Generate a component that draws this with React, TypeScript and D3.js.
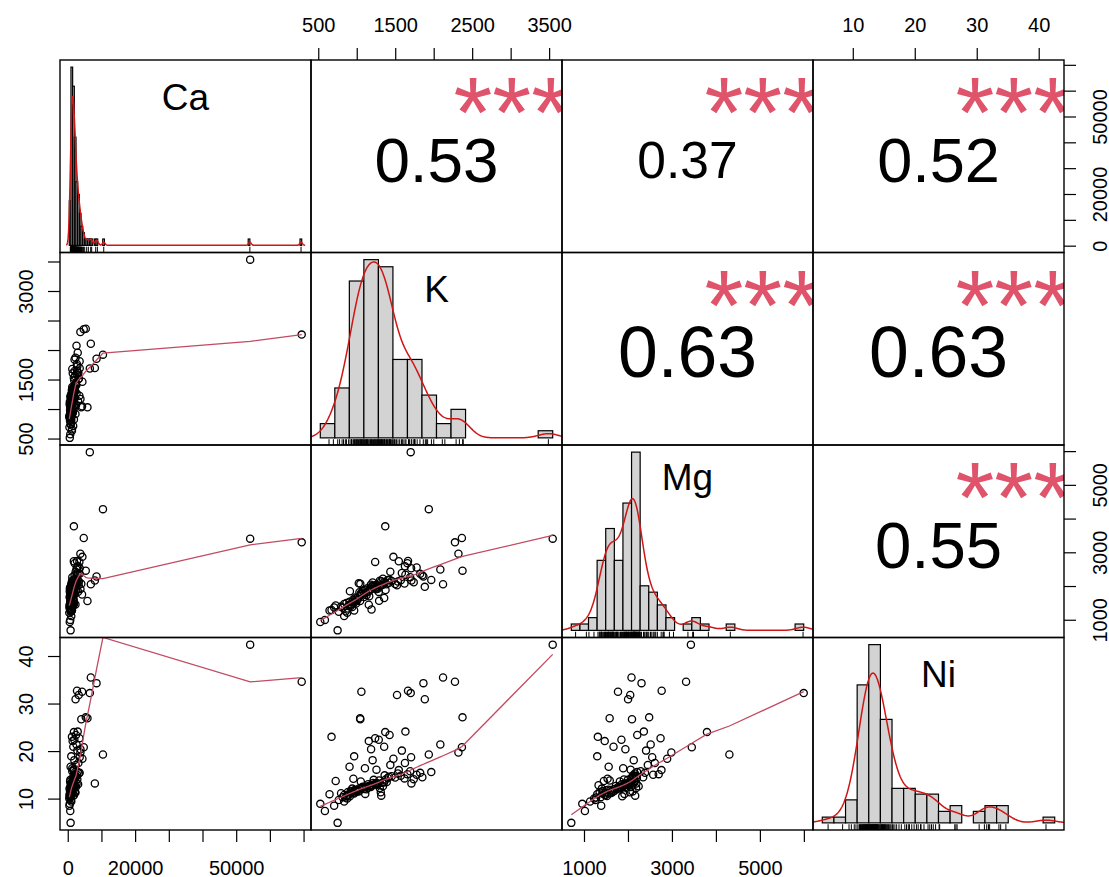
import React from 'react';
import * as d3 from 'd3';

// ---------------- data (one entry per sample, 115 samples) ----------------
const varNames = ['Ca', 'K', 'Mg', 'Ni'];

const caValues = [
  700, 54000, 69300, 6400, 10300, 1670, 7900, 8400, 6700, 4600, 5200, 3600, 2450, 2170, 1650, 4200, 450, 600, 900, 4100,
  2600, 3100, 5700, 3880, 2800, 3300, 1100, 1800, 2300, 1300, 3620, 1500, 2700, 900, 3400, 1800, 1200, 2200, 700, 3000,
  1500, 350, 800,
  520, 1090, 310, 1460, 670, 870, 440, 1690, 770, 590, 1240, 360, 1020, 710, 2140, 610, 830, 1370, 540, 1160, 920, 650,
  1570, 730,
  790, 410, 1310, 950, 2310, 560, 1110, 690, 1820, 850, 480, 1490, 1040, 2930, 630, 1210, 810, 1970, 980, 1400, 750, 2470,
  890, 1290,
  1070, 1610, 1190, 2000, 1260, 1780, 1140, 1430, 2390, 1530, 1340, 1920, 1640, 2690, 1730, 3150, 1870, 2230, 1900, 2060,
  2810, 2580, 1200, 3380,
];

const kValues = [
  745, 3540, 2270, 1695, 1930, 1364, 1704, 1860, 2115, 2360, 2368, 2315, 2080, 1878, 1540, 1470, 520, 580, 830, 1054,
  1660, 1517, 1037, 1040, 1626, 1233, 666, 1280, 1420, 1150, 1180, 1350, 1580, 960, 1700, 1200, 1100, 1430, 900, 1620,
  1250, 700, 760,
  810, 640, 870, 720, 850, 790, 905, 830, 880, 860, 935, 890, 915, 960, 925, 945, 985, 950, 990, 970, 1020, 975, 998, 1010,
  1058, 1090, 1028, 1121, 1071, 1046, 1156, 1104, 1083, 1186, 1133, 1112, 1177, 1142, 1214, 1163, 1243, 1194, 1266, 1208,
  1236, 1277, 1227, 1258,
  1327, 1284, 1383, 1306, 1348, 1493, 1293, 1368, 1412, 1312, 1614, 1334, 1356, 1734, 1396, 1528, 1846, 1448, 1652, 1566,
  1962, 1772, 1688, 1818,
];

const mgValues = [
  700, 3420, 3310, 5985, 4295, 3785, 2180, 2297, 2069, 3440, 2471, 2975, 2505, 1991, 2750, 2880, 950, 1010, 1127, 1762,
  2755, 2040, 1572, 2080, 2350, 2730, 1304, 1840, 2200, 1460, 1930, 1660, 2400, 1290, 2540, 2120, 1880, 2440, 1550, 2600,
  2050, 1380, 1250,
  1370, 1290, 1220, 1440, 1265, 1405, 1858, 1480, 1345, 1510, 1395, 1455, 1420, 1555, 1470, 1610, 1495, 1525, 1650, 1540,
  2094, 1675, 1590, 1630,
  1788, 1688, 1829, 1743, 1872, 1804, 1712, 1908, 1761, 1320, 1948, 1817, 2054, 1846, 1986, 1883, 1921, 2006, 1934, 2027,
  1961, 1994, 2013, 1973,
  2047, 1575, 2066, 2033, 2134, 2073, 2174, 1897, 2113, 2153, 2088, 2232, 2106, 2127, 2191, 2146, 2334, 2167, 2688, 2183,
  2197, 2562, 2278, 2376,
];

const niValues = [
  5.0, 42.5, 34.7, 32.3, 19.4, 24.1, 13.3, 34.4, 35.6, 20.9, 27.2, 19.8, 21.5, 31.0, 16.1, 18.5, 9.0, 7.5, 9.5, 32.6,
  32.8, 31.9, 27.0, 26.8, 24.2, 22.8, 23.1, 22.5, 23.5, 22.2, 20.5, 21.0, 20.2, 19.0, 18.8, 18.2, 16.5, 17.2, 16.8, 17.6,
  16.2, 8.6, 9.8,
  10.41, 11.04, 10.12, 13.8, 10.35, 11.23, 10.58, 10.85, 11.5, 10.66, 12.21, 10.92, 11.68, 11.18, 11.37, 11.31, 11.84,
  14.28, 11.56, 11.96, 11.62, 11.73, 11.9, 11.79,
  12.44, 12.15, 12.27, 12.08, 12.61, 13.7, 12.78, 11.1, 12.5, 12.94, 12.38, 12.66, 12.55, 13.11, 14.05, 12.83, 13.28,
  12.88, 13.0, 13.4, 13.05, 13.22, 13.17, 13.34,
  13.46, 13.91, 13.61, 11.44, 13.52, 14.53, 12.33, 14.12, 14.71, 10.73, 14.36, 12.72, 15.0, 14.2, 14.45, 15.38, 14.6,
  14.8, 15.25, 14.9, 15.68, 15.12, 15.85, 15.52,
];

// correlation labels (upper panels), as printed
const corrPairs = [[0, 1], [0, 2], [0, 3], [1, 2], [1, 3], [2, 3]];
const corrText = ['0.53', '0.37', '0.52', '0.63', '0.63', '0.55'];
const corrStars = ['***', '***', '***', '***', '***', '***'];

// axis ticks and labels
const caTicks = [0, 10000, 20000, 30000, 40000, 50000, 60000, 70000];
const caLabels = [0, 20000, 50000];
const kTicks = [500, 1000, 1500, 2000, 2500, 3000, 3500];
const kLabelsTop = [500, 1500, 2500, 3500];
const kLabelsLeft = [500, 1500, 3000];
const mgTicks = [1000, 2000, 3000, 4000, 5000, 6000];
const mgLabels = [1000, 3000, 5000];
const niTicks = [10, 20, 30, 40];
const niLabels = [10, 20, 30, 40];

// histogram bin widths (as in the picture)
const histBinWidth = [500, 200, 200, 2];

// ---------------- helpers ----------------
const FONT = '"Liberation Sans", Arial, Helvetica, sans-serif';
const STAR_COL = '#DF536B';
const SMOOTH_COL = '#C24A62';
const DENS_COL = '#D01515';

function lowess(xIn: number[], yIn: number[], f = 2 / 3, nsteps = 3): [number, number][] {
  const n = xIn.length;
  const order = d3.range(n).sort((a, b) => xIn[a] - xIn[b]);
  const x = [0, ...order.map((i) => xIn[i])];
  const y = [0, ...order.map((i) => yIn[i])];
  const ys = new Array(n + 1).fill(0);
  const rw = new Array(n + 1).fill(1);
  const w = new Array(n + 1).fill(0);
  const delta = 0.01 * (x[n] - x[1]);
  const ns = Math.max(2, Math.min(n, Math.floor(f * n + 1e-7)));

  const lowest = (xs: number, nleft: number, nright: number, userw: boolean): [number, boolean] => {
    const range = x[n] - x[1];
    const h = Math.max(xs - x[nleft], x[nright] - xs);
    const h9 = 0.999 * h;
    const h1 = 0.001 * h;
    let a = 0;
    let j = nleft;
    while (j <= n) {
      w[j] = 0;
      const r = Math.abs(x[j] - xs);
      if (r <= h9) {
        if (r <= h1) w[j] = 1;
        else {
          const q = r / h;
          const c = 1 - q * q * q;
          w[j] = c * c * c;
        }
        if (userw) w[j] *= rw[j];
        a += w[j];
      } else if (x[j] > xs) break;
      j++;
    }
    const nrt = j - 1;
    if (a <= 0) return [0, false];
    for (j = nleft; j <= nrt; j++) w[j] /= a;
    if (h > 0) {
      a = 0;
      for (j = nleft; j <= nrt; j++) a += w[j] * x[j];
      let b = xs - a;
      let c = 0;
      for (j = nleft; j <= nrt; j++) c += w[j] * (x[j] - a) * (x[j] - a);
      if (Math.sqrt(c) > 0.001 * range) {
        b /= c;
        for (j = nleft; j <= nrt; j++) w[j] *= b * (x[j] - a) + 1;
      }
    }
    let s = 0;
    for (j = nleft; j <= nrt; j++) s += w[j] * y[j];
    return [s, true];
  };

  let iter = 1;
  while (iter <= nsteps + 1) {
    let nleft = 1;
    let nright = ns;
    let last = 0;
    let i = 1;
    for (;;) {
      if (nright < n) {
        const d1 = x[i] - x[nleft];
        const d2 = x[nright + 1] - x[i];
        if (d1 > d2) {
          nleft++;
          nright++;
          continue;
        }
      }
      const [v, ok] = lowest(x[i], nleft, nright, iter > 1);
      ys[i] = ok ? v : y[i];
      if (last < i - 1) {
        const denom = x[i] - x[last];
        for (let j = last + 1; j < i; j++) {
          const alpha = (x[j] - x[last]) / denom;
          ys[j] = alpha * ys[i] + (1 - alpha) * ys[last];
        }
      }
      last = i;
      const cut = x[last] + delta;
      for (i = last + 1; i <= n; i++) {
        if (x[i] > cut) break;
        if (x[i] === x[last]) {
          ys[i] = ys[last];
          last = i;
        }
      }
      i = Math.max(last + 1, i - 1);
      if (last >= n) break;
    }
    const res: number[] = [];
    for (let q = 1; q <= n; q++) res.push(y[q] - ys[q]);
    const sc = d3.sum(res, (r) => Math.abs(r)) / n;
    if (iter > nsteps) break;
    const sorted = res.map((r) => Math.abs(r)).sort((a, b) => a - b);
    const m1 = Math.floor(n / 2);
    let cmad: number;
    if (n % 2 === 0) {
      const m2 = n - m1 - 1;
      cmad = 3 * (sorted[m1] + sorted[m2]);
    } else cmad = 6 * sorted[m1];
    if (cmad < 1e-7 * sc) break;
    const c9 = 0.999 * cmad;
    const c1 = 0.001 * cmad;
    for (let q = 0; q < n; q++) {
      const r = Math.abs(res[q]);
      if (r <= c1) rw[q + 1] = 1;
      else if (r <= c9) {
        const u = r / cmad;
        rw[q + 1] = (1 - u * u) * (1 - u * u);
      } else rw[q + 1] = 0;
    }
    iter++;
  }
  const out: [number, number][] = [];
  for (let q = 1; q <= n; q++) out.push([x[q], ys[q]]);
  return out;
}

function histogram(values: number[], w: number) {
  const lo = Math.floor((d3.min(values) as number) / w) * w;
  const hi = Math.ceil((d3.max(values) as number) / w) * w;
  const nb = Math.round((hi - lo) / w);
  const breaks = d3.range(nb + 1).map((i) => lo + i * w);
  const counts = new Array(nb).fill(0);
  values.forEach((v) => {
    let b = Math.ceil((v - lo) / w - 1e-9) - 1;
    if (b < 0) b = 0;
    if (b > nb - 1) b = nb - 1;
    counts[b]++;
  });
  const dens = counts.map((c) => c / (values.length * w));
  return { breaks, counts, dens };
}

function kde(values: number[]): [number, number][] {
  const n = values.length;
  const sorted = [...values].sort((a, b) => a - b);
  const sd = d3.deviation(values) as number;
  const iqr = (d3.quantileSorted(sorted, 0.75) as number) - (d3.quantileSorted(sorted, 0.25) as number);
  const lo = Math.min(sd, iqr / 1.34);
  const bw = 0.9 * lo * Math.pow(n, -0.2);
  const from = sorted[0] - 3 * bw;
  const to = sorted[n - 1] + 3 * bw;
  const grid = d3.range(512).map((i) => from + ((to - from) * i) / 511);
  const k = 1 / (n * bw * Math.sqrt(2 * Math.PI));
  return grid.map((gx) => [gx, k * d3.sum(values, (v) => Math.exp(-0.5 * ((gx - v) / bw) ** 2))]);
}

// ---------------- component ----------------
export default function App() {
  const vars = [caValues, kValues, mgValues, niValues];
  const ticks = [caTicks, kTicks, mgTicks, niTicks];
  const labelsH = [caLabels, kLabelsTop, mgLabels, niLabels];
  const labelsV = [caLabels, kLabelsLeft, mgLabels, niLabels];
  const nv = vars.length;
  const W = 1109;
  const H = 877;
  const L = 60;
  const T = 60;
  const R = 1064;
  const B = 830;
  const pw = (R - L) / nv;
  const ph = (B - T) / nv;

  const padDom = (lo: number, hi: number): [number, number] => {
    const d = hi - lo;
    return [lo - 0.04 * d, hi + 0.04 * d];
  };
  const xS = vars.map((v, j) => {
    const [lo, hi] = d3.extent(v) as [number, number];
    return d3.scaleLinear().domain(padDom(lo, hi)).range([L + j * pw, L + (j + 1) * pw]);
  });
  const yS = vars.map((v, i) => {
    const [lo, hi] = d3.extent(v) as [number, number];
    return d3.scaleLinear().domain(padDom(lo, hi)).range([T + (i + 1) * ph, T + i * ph]);
  });

  const panels: React.ReactNode[] = [];
  const clips: React.ReactNode[] = [];

  for (let i = 0; i < nv; i++) {
    for (let j = 0; j < nv; j++) {
      const x0 = L + j * pw;
      const y0 = T + i * ph;
      const id = `clip-${i}-${j}`;
      clips.push(
        <clipPath id={id} key={id}>
          <rect x={x0} y={y0} width={pw} height={ph} />
        </clipPath>
      );
      const key = `p-${i}-${j}`;
      if (i === j) {
        const vals = vars[i];
        const h = histogram(vals, histBinWidth[i]);
        const b0 = h.breaks[0];
        const bn = h.breaks[h.breaks.length - 1];
        const maxD = d3.max(h.dens) as number;
        const hx = d3.scaleLinear().domain(padDom(b0, bn)).range([x0, x0 + pw]);
        const hy = d3.scaleLinear().domain(padDom(0, maxD)).range([y0 + ph, y0]);
        const dens = kde(vals);
        const line = d3
          .line<[number, number]>()
          .x((d) => hx(d[0]))
          .y((d) => hy(d[1]));
        const desc = /[gjpqy]/.test(varNames[i]) ? 4.5 : 0;
        panels.push(
          <g key={key} clipPath={`url(#${id})`}>
            {h.counts.map((c, b) =>
              c > 0 ? (
                <rect
                  key={b}
                  x={hx(h.breaks[b])}
                  y={hy(h.dens[b])}
                  width={hx(h.breaks[b + 1]) - hx(h.breaks[b])}
                  height={hy(0) - hy(h.dens[b])}
                  fill="#D3D3D3"
                  stroke="#000"
                  strokeWidth={1.2}
                />
              ) : null
            )}
            <path d={line(dens) || ''} fill="none" stroke={DENS_COL} strokeWidth={1.5} />
            {vals.map((v, q) => (
              <line
                key={`r${q}`}
                x1={hx(v)}
                x2={hx(v)}
                y1={y0 + ph}
                y2={y0 + ph - 0.03 * ph}
                stroke="#000"
                strokeWidth={1}
              />
            ))}
            <text
              x={x0 + pw / 2}
              y={y0 + 49.5 - desc}
              textAnchor="middle"
              fontFamily={FONT}
              fontSize={37}
              fill="#000"
            >
              {varNames[i]}
            </text>
          </g>
        );
      } else if (i > j) {
        const xv = vars[j];
        const yv = vars[i];
        const lw = lowess(xv, yv);
        const line = d3
          .line<[number, number]>()
          .x((d) => xS[j](d[0]))
          .y((d) => yS[i](d[1]));
        panels.push(
          <g key={key} clipPath={`url(#${id})`}>
            {xv.map((v, q) => (
              <circle
                key={q}
                cx={xS[j](v)}
                cy={yS[i](yv[q])}
                r={3.6}
                fill="none"
                stroke="#000"
                strokeWidth={1.3}
              />
            ))}
            <path d={line(lw) || ''} fill="none" stroke={SMOOTH_COL} strokeWidth={1.3} />
          </g>
        );
      } else {
        const ci = corrPairs.findIndex((p) => p[0] === i && p[1] === j);
        const txt = corrText[ci];
        const r = Math.abs(parseFloat(txt));
        const base = 100;
        const fs = (base * (r + 0.3)) / 1.3;
        panels.push(
          <g key={key} clipPath={`url(#${id})`}>
            <text
              x={x0 + pw / 2}
              y={y0 + ph / 2 + 3 + 0.358 * fs}
              textAnchor="middle"
              fontFamily={FONT}
              fontSize={fs}
              fill="#000"
            >
              {txt}
            </text>
            <text
              x={x0 + 0.8 * pw}
              y={y0 + 0.2 * ph + 2 + 0.465 * base}
              textAnchor="middle"
              fontFamily={FONT}
              fontSize={base}
              fill={STAR_COL}
            >
              {corrStars[ci]}
            </text>
          </g>
        );
      }
    }
  }

  // axes
  const axes: React.ReactNode[] = [];
  const tickLen = 12;
  for (let j = 0; j < nv; j++) {
    const top = j % 2 === 1;
    ticks[j].forEach((t) => {
      const x = xS[j](t);
      axes.push(
        <line
          key={`hx-${j}-${t}`}
          x1={x}
          x2={x}
          y1={top ? T : B}
          y2={top ? T - tickLen : B + tickLen}
          stroke="#000"
          strokeWidth={1.2}
        />
      );
    });
    labelsH[j].forEach((t) => {
      axes.push(
        <text
          key={`hl-${j}-${t}`}
          x={xS[j](t)}
          y={top ? 31.7 : 874.5}
          textAnchor="middle"
          fontFamily={FONT}
          fontSize={20}
          fill="#000"
        >
          {String(t)}
        </text>
      );
    });
  }
  for (let i = 0; i < nv; i++) {
    const left = i % 2 === 1;
    ticks[i].forEach((t) => {
      const y = yS[i](t);
      axes.push(
        <line
          key={`vy-${i}-${t}`}
          x1={left ? L : R}
          x2={left ? L - tickLen : R + tickLen}
          y1={y}
          y2={y}
          stroke="#000"
          strokeWidth={1.2}
        />
      );
    });
    labelsV[i].forEach((t) => {
      const y = yS[i](t);
      const bx = left ? 32.5 : 1106.5;
      axes.push(
        <text
          key={`vl-${i}-${t}`}
          transform={`translate(${bx},${y}) rotate(-90)`}
          textAnchor="middle"
          fontFamily={FONT}
          fontSize={20}
          fill="#000"
        >
          {String(t)}
        </text>
      );
    });
  }

  // panel frames
  const frames: React.ReactNode[] = [];
  for (let i = 0; i < nv; i++) {
    for (let j = 0; j < nv; j++) {
      frames.push(
        <rect
          key={`f-${i}-${j}`}
          x={L + j * pw}
          y={T + i * ph}
          width={pw}
          height={ph}
          fill="none"
          stroke="#000"
          strokeWidth={1.4}
        />
      );
    }
  }

  return (
    <svg
      width={W}
      height={H}
      viewBox={`0 0 ${W} ${H}`}
      style={{ position: 'absolute', left: 0, top: 0, background: '#fff' }}
    >
      <defs>{clips}</defs>
      <rect x={0} y={0} width={W} height={H} fill="#fff" />
      {panels}
      {frames}
      {axes}
    </svg>
  );
}
